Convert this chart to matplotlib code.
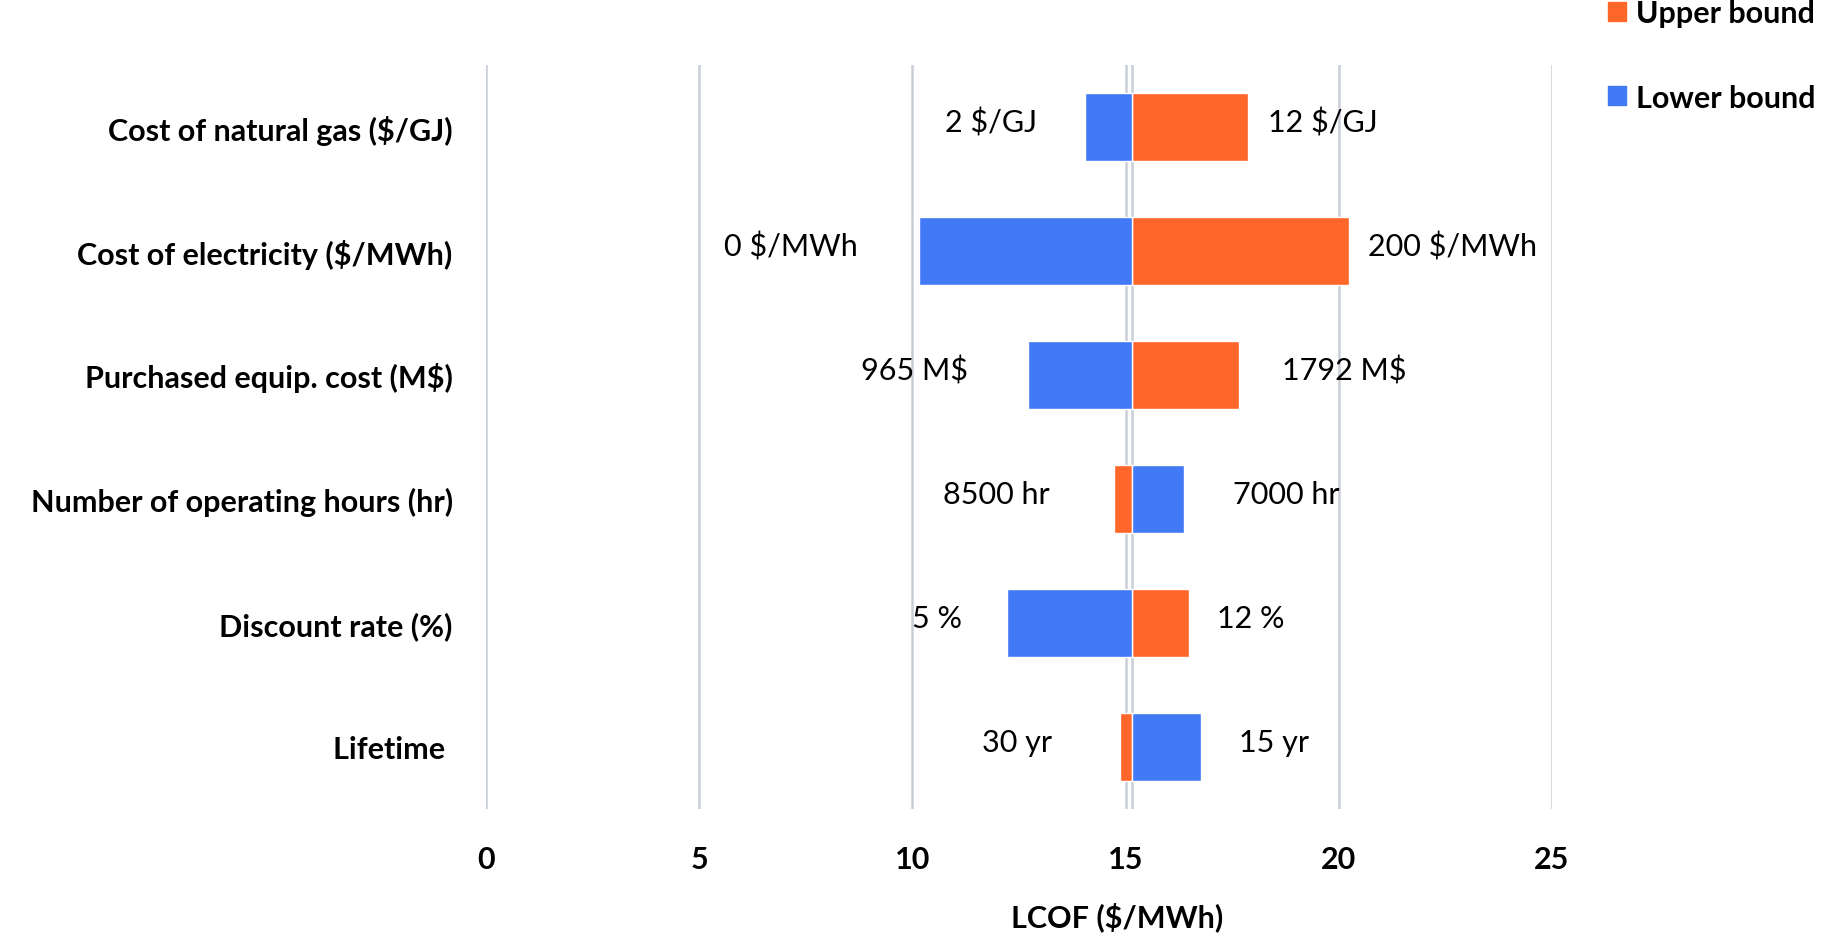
import matplotlib
matplotlib.use("Agg")
import matplotlib.pyplot as plt
from matplotlib.patches import Patch


# =========================
# DATA
# =========================

PARAMS = [
    "Cost of natural gas ($/GJ)",
    "Cost of electricity ($/MWh)",
    "Purchased equip. cost (M$)",
    "Number of operating hours (hr)",
    "Discount rate (%)",
    "Lifetime ",
]

BASE_LCOF = 15.16

UPPER_LCOF = [17.88, 20.23, 17.65, 14.72, 16.48, 14.88]
LOWER_LCOF = [14.04, 10.15, 12.70, 16.36, 12.23, 16.78]

UPPER_TXT = ["12 $/GJ", "200 $/MWh", "1792 M$", "8500 hr", "12 %", "30 yr"]
LOWER_TXT = ["2 $/GJ", "0 $/MWh", "965 M$", "7000 hr", "5 %", "15 yr"]

X_TICKS = [0, 5, 10, 15, 20, 25]


# =========================
# STYLE
# =========================

ORANGE = "#FF6629"
BLUE = "#4279F4"
GRID = "#c9cfd6"
FONT = "Lato"
FS = 22

# gap (px) between bar end and its label, per row
GAP_LEFT = [48, 61, 60, 64, 45, 68]
GAP_RIGHT = [20, 19, 43, 49, 28, 38]

plt.rcParams["font.family"] = [FONT, "DejaVu Sans"]

fig = plt.figure(figsize=(18.33, 9.37), dpi=100)
ax = fig.add_axes([486 / 1833, 1 - 810 / 937, (1552 - 486) / 1833, (810 - 66) / 937])

n = len(PARAMS)
ypos = list(range(n))

for x in X_TICKS:
    ax.axvline(x, color=GRID, lw=1.8, zorder=0)
ax.axvline(BASE_LCOF, color=GRID, lw=1.8, zorder=0)

ax.barh(ypos, [u - BASE_LCOF for u in UPPER_LCOF], left=BASE_LCOF, height=0.55,
        color=ORANGE, edgecolor="white", linewidth=1, zorder=2)
ax.barh(ypos, [l - BASE_LCOF for l in LOWER_LCOF], left=BASE_LCOF, height=0.55,
        color=BLUE, edgecolor="white", linewidth=1, zorder=2)

px = 72 / fig.dpi
for i in ypos:
    for val, txt in ((UPPER_LCOF[i], UPPER_TXT[i]), (LOWER_LCOF[i], LOWER_TXT[i])):
        if val < BASE_LCOF:
            ax.annotate(txt, (val, i), xytext=(-GAP_LEFT[i] * px, 5 * px),
                        textcoords="offset points", ha="right", va="center",
                        fontsize=FS, color="black")
        else:
            ax.annotate(txt, (val, i), xytext=(GAP_RIGHT[i] * px, 5 * px),
                        textcoords="offset points", ha="left", va="center",
                        fontsize=FS, color="black")

ax.set_xlim(0, 25)
ax.set_ylim(n - 0.5, -0.5)
ax.set_xticks(X_TICKS)
ax.set_xticklabels([str(t) for t in X_TICKS], fontsize=FS, fontweight="bold")
ax.set_yticks(ypos)
ax.set_yticklabels(PARAMS, fontsize=FS, fontweight="bold")
ax.tick_params(axis="both", length=0)
ax.tick_params(axis="x", pad=26)
ax.tick_params(axis="y", pad=24)
for s in ax.spines.values():
    s.set_visible(False)

fig.text(1117 / 1833, 1 - 917 / 937, "LCOF ($/MWh)", ha="center", va="center",
         fontsize=FS, fontweight="bold")

handles = [Patch(color=ORANGE, label="Upper bound"), Patch(color=BLUE, label="Lower bound")]
fig.legend(handles=handles, loc="upper left", bbox_to_anchor=(1608 / 1833, 1.0),
           frameon=False, borderpad=0, borderaxespad=0,
           prop={"family": FONT, "weight": "bold", "size": FS},
           handlelength=0.6, handleheight=0.6, handletextpad=0.3, labelspacing=1.85)

fig.savefig("out.png", dpi=100)
